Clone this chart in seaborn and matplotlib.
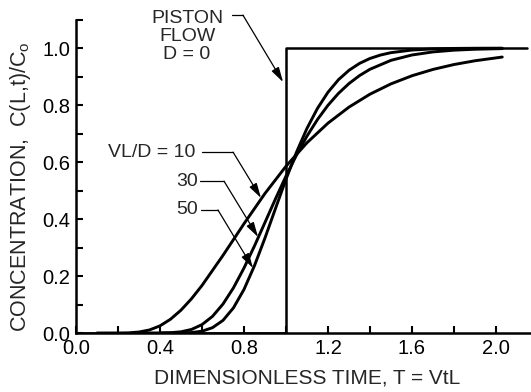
import pandas as pd
import numpy as np
import matplotlib
matplotlib.use('Agg')
import matplotlib.pyplot as plt
from matplotlib.ticker import MultipleLocator, FormatStrFormatter
import seaborn as sns

# breakthrough curves (T = dimensionless time, C = C(L,t)/Co)
t_10 = [0.1, 0.2, 0.25, 0.3, 0.35, 0.4, 0.45, 0.5, 0.55, 0.6, 0.7, 0.8, 0.9,
        1.0, 1.1, 1.2, 1.3, 1.4, 1.5, 1.6, 1.7, 1.8, 1.9, 2.03]
c_10 = [0.0, 0.0001, 0.0006, 0.0034, 0.0107, 0.0251, 0.0483, 0.0802, 0.1202,
        0.1668, 0.2725, 0.3835, 0.4899, 0.5854, 0.6679, 0.7367, 0.7930, 0.8384,
        0.8746, 0.9031, 0.9253, 0.9425, 0.9557, 0.9688]

t_30 = [0.3, 0.4, 0.45, 0.5, 0.55, 0.6, 0.65, 0.7, 0.75, 0.8, 0.85, 0.9, 0.95,
        1.0, 1.05, 1.1, 1.15, 1.2, 1.25, 1.3, 1.35, 1.4, 1.5, 1.6, 1.7, 1.8,
        1.9, 2.03]
c_30 = [0.0, 0.0002, 0.0011, 0.0042, 0.0125, 0.0294, 0.0584, 0.1016, 0.1587,
        0.2280, 0.3057, 0.3881, 0.4709, 0.5507, 0.6246, 0.6912, 0.7495, 0.7995,
        0.8413, 0.8757, 0.9036, 0.9259, 0.9572, 0.9760, 0.9868, 0.9929, 0.9962,
        0.9984]

t_50 = [0.4, 0.5, 0.55, 0.6, 0.65, 0.7, 0.75, 0.8, 0.85, 0.9, 0.95, 1.0, 1.05,
        1.1, 1.15, 1.2, 1.25, 1.3, 1.35, 1.4, 1.45, 1.5, 1.6, 1.7, 1.8, 1.9,
        2.03]
c_50 = [0.0, 0.0003, 0.0016, 0.0063, 0.0187, 0.0443, 0.0884, 0.1529, 0.2364,
        0.3335, 0.4370, 0.5395, 0.6346, 0.7184, 0.7886, 0.8452, 0.8892, 0.9222,
        0.9464, 0.9638, 0.9758, 0.9842, 0.9934, 0.9974, 0.9990, 0.9996, 0.9999]

# piston flow (D = 0) step
t_piston = [0.0, 1.0, 1.0, 2.15]
c_piston = [0.0, 0.0, 1.0, 1.0]

curve_labels = ['VL/D = 10', '30', '50']

df = pd.concat([
    pd.DataFrame({'T': t_10, 'C': c_10, 'curve': '10'}),
    pd.DataFrame({'T': t_30, 'C': c_30, 'curve': '30'}),
    pd.DataFrame({'T': t_50, 'C': c_50, 'curve': '50'}),
])

sns.set_style('ticks')
plt.rcParams['font.family'] = ['Liberation Sans', 'DejaVu Sans']
plt.rcParams['mathtext.fontset'] = 'custom'
plt.rcParams['mathtext.rm'] = 'Liberation Sans'

fig = plt.figure(figsize=(5.31, 3.92), dpi=100)
ax = fig.add_axes([0.1431, 0.1505, 0.855, 0.7997])

sns.lineplot(data=df, x='T', y='C', units='curve', estimator=None, sort=False,
             color='black', linewidth=2.1, ax=ax)
sns.lineplot(x=t_piston, y=c_piston, estimator=None, sort=False,
             color='black', linewidth=1.8, ax=ax)

ax.set_xlim(0, 2.162)
ax.set_ylim(0, 1.1005)
ax.xaxis.set_major_locator(MultipleLocator(0.4))
ax.xaxis.set_minor_locator(MultipleLocator(0.2))
ax.yaxis.set_major_locator(MultipleLocator(0.2))
ax.yaxis.set_minor_locator(MultipleLocator(0.1))
ax.xaxis.set_major_formatter(FormatStrFormatter('%.1f'))
ax.yaxis.set_major_formatter(FormatStrFormatter('%.1f'))
ax.set_yticks([0.0, 0.2, 0.4, 0.6, 0.8, 1.0])
ax.tick_params(which='both', direction='in', length=5, width=1.5,
               labelsize=14.5, pad=4, colors='black')
sns.despine(ax=ax)
for s in ['left', 'bottom']:
    ax.spines[s].set_linewidth(1.8)
    ax.spines[s].set_color('black')
ax.set_xlabel('')
ax.set_ylabel('')

fig.text(307 / 531, 1 - 378.5 / 392, 'DIMENSIONLESS TIME, T = VtL',
         ha='center', va='center', fontsize=15)
fig.text(21 / 531, 1 - 187 / 392, r'CONCENTRATION,  C(L,t)/C$_\mathrm{o}$',
         ha='center', va='center', rotation=90, fontsize=15.5)

arrow = dict(arrowstyle='-|>,head_length=0.9,head_width=0.25', color='black',
             lw=0.9, shrinkA=0, shrinkB=0, mutation_scale=10)

# piston flow label
ax.text(0.529, 1.042, 'PISTON\nFLOW\nD = 0', ha='center', va='center',
        fontsize=14, linespacing=1.08)
ax.plot([0.743, 0.795], [1.116, 1.116], color='black', lw=0.9, clip_on=False)
ax.annotate('', xy=(0.986, 0.881), xytext=(0.795, 1.116), arrowprops=arrow,
            annotation_clip=False)

# VL/D labels: (text x, text y, line start, corner, tip)
label_pos = [
    (0.567, 0.635, 0.600, 0.748, 0.881, 0.474),
    (0.581, 0.533, 0.590, 0.705, 0.867, 0.337),
    (0.581, 0.432, 0.595, 0.676, 0.843, 0.228),
]
for lab, (tx, ty, x0, x1, ax_, ay) in zip(curve_labels, label_pos):
    ax.text(tx, ty, lab, ha='right', va='center', fontsize=14)
    ax.plot([x0, x1], [ty, ty], color='black', lw=0.9)
    ax.annotate('', xy=(ax_, ay), xytext=(x1, ty), arrowprops=arrow)

fig.savefig('out.png', dpi=100)
